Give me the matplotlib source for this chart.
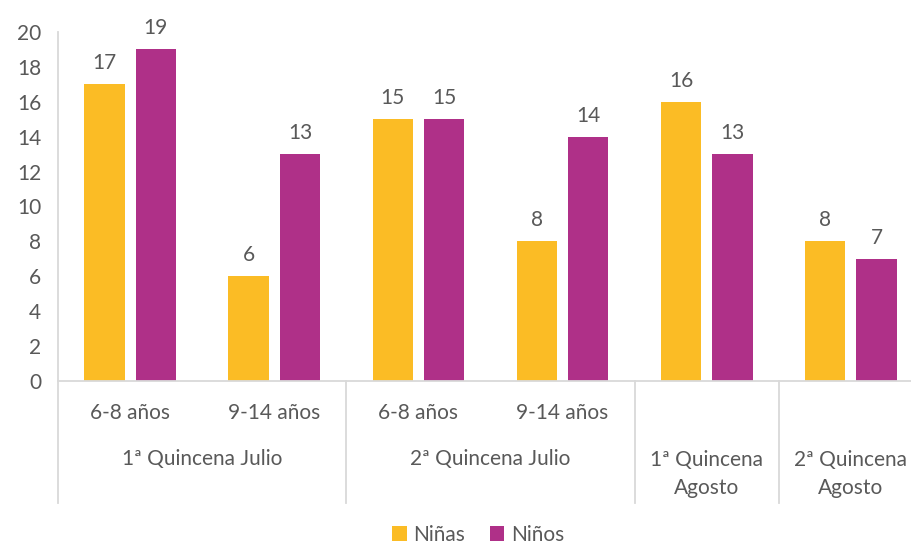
import numpy as np
import matplotlib
matplotlib.use('Agg')
import matplotlib.pyplot as plt
from matplotlib.transforms import blended_transform_factory

# data
sub_labels = ['6-8 años', '9-14 años', '6-8 años', '9-14 años', '', '']
group_labels = ['1ª Quincena Julio', '2ª Quincena Julio',
                '1ª Quincena\nAgosto', '2ª Quincena\nAgosto']
group_spans = [(0, 2), (2, 4), (4, 5), (5, 6)]
ninas = [17, 6, 15, 8, 16, 8]
ninos = [19, 13, 15, 14, 13, 7]

col_ninas = '#FBBC25'
col_ninos = '#AF3088'
txt = '#595959'
axcol = '#D9D9D9'
fs = 15

plt.rcParams['font.family'] = ['Lato', 'DejaVu Sans']

W, H = 912, 547
fig = plt.figure(figsize=(W / 100, H / 100), dpi=100)
ax = fig.add_axes([58 / W, 1 - 381 / H, (923 - 58) / W, (381 - 32) / H])

x = np.arange(len(ninas)) + 0.5
bw = 0.28
off = 0.178
b1 = ax.bar(x - off, ninas, bw, color=col_ninas, label='Niñas')
b2 = ax.bar(x + off, ninos, bw, color=col_ninos, label='Niños')

for bars in (b1, b2):
    for b in bars:
        ax.annotate(str(int(b.get_height())),
                    (b.get_x() + b.get_width() / 2, b.get_height()),
                    xytext=(0, 8), textcoords='offset points',
                    ha='center', va='bottom', fontsize=fs, color=txt)

ax.set_xlim(0, 6)
ax.set_ylim(0, 20)
ax.set_yticks(range(0, 21, 2))
ax.tick_params(axis='y', length=0, labelsize=fs, labelcolor=txt, pad=12)
ax.set_xticks([])
for s in ['top', 'right']:
    ax.spines[s].set_visible(False)
ax.spines['left'].set_color(axcol)
ax.spines['bottom'].set_color(axcol)
ax.spines['left'].set_linewidth(1.3)
ax.spines['bottom'].set_linewidth(1.3)

# multi-level category axis
tr = blended_transform_factory(ax.transData, fig.transFigure)
for xi, lab in zip(x, sub_labels):
    if lab:
        ax.text(xi, 1 - 413 / H, lab, transform=tr, ha='center', va='center',
                fontsize=fs, color=txt)
for (a, b), lab in zip(group_spans, group_labels):
    ax.text((a + b) / 2, 1 - 474 / H if '\n' in lab else 1 - 459 / H, lab,
            transform=tr, ha='center', va='center', fontsize=fs, color=txt,
            linespacing=1.5)
for xb in [0, 2, 4, 5]:
    ax.plot([xb, xb], [1 - 381 / H, 1 - 503 / H], transform=tr,
            color=axcol, lw=1.3, clip_on=False)

fig.legend(loc='center', bbox_to_anchor=(478 / W, 1 - 535 / H), ncol=2,
           frameon=False, fontsize=fs, handlelength=0.7, handleheight=0.7,
           handletextpad=0.3, columnspacing=1.2, labelcolor=txt,
           borderpad=0.1)

fig.savefig('out.png', dpi=100)
